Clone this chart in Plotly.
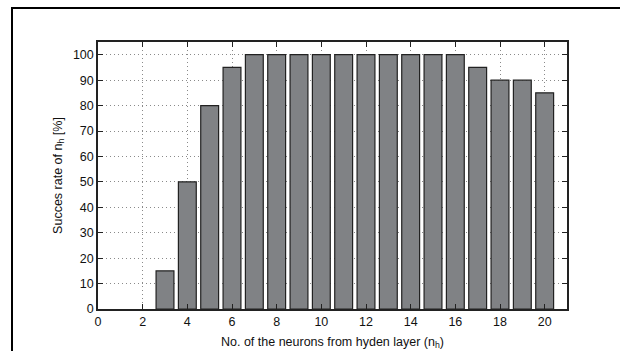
import plotly.graph_objects as go

neurons = list(range(1, 21))
success = [0, 0, 15, 50, 80, 95, 100, 100, 100, 100, 100, 100, 100, 100, 100, 100, 95, 90, 90, 85]
x_ticks = list(range(0, 21, 2))
y_ticks = list(range(0, 101, 10))

L, R, T, B = 98, 53, 42, 42
W, H = 620, 351
pw, ph = W - L - R, H - T - B

def px_x(p):
    return (p - L) / pw

def px_y(p):
    return (H - B - p) / ph

fig = go.Figure()
fig.add_trace(go.Bar(
    x=neurons, y=success, width=0.8,
    marker=dict(color="#808285",
                line=dict(color="#222222", width=[0 if v == 0 else 1.2 for v in success])),
))

fig.add_shape(type="rect", xref="paper", yref="paper",
              x0=px_x(12), x1=px_x(630), y0=px_y(8), y1=px_y(370),
              line=dict(color="black", width=2), fillcolor="rgba(0,0,0,0)", layer="below")

font = dict(family="Liberation Sans, Arial, sans-serif", size=12.5, color="#111111")
axis_common = dict(
    showline=True, linecolor="#222222", linewidth=1.5, mirror="ticks",
    ticks="inside", ticklen=5, tickcolor="#222222",
    showgrid=True, gridcolor="#8a8a8a", griddash="1px,3px", gridwidth=1,
    zeroline=False, tickfont=font, automargin=False,
)
fig.update_xaxes(range=[0, 21], tickvals=x_ticks, ticktext=[str(v) for v in x_ticks],
                 title=dict(text="No. of the neurons from hyden layer (n<sub>h</sub>)", font=font, standoff=9),
                 **axis_common)
fig.update_yaxes(range=[0, 105], tickvals=y_ticks, ticktext=[str(v) for v in y_ticks],
                 title=dict(text="Succes rate of n<sub>h</sub> [%]", font=font, standoff=8),
                 **axis_common)
fig.update_layout(
    width=W, height=H, margin=dict(l=L, r=R, t=T, b=B, autoexpand=False),
    paper_bgcolor="white", plot_bgcolor="white", showlegend=False,
    font=font,
)
fig.write_html("out.html")
